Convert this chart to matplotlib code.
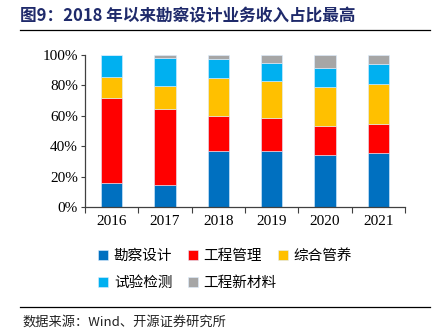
import numpy as np
import matplotlib.pyplot as plt
from matplotlib.lines import Line2D

plt.rcParams['font.family'] = ['Noto Sans CJK SC', 'DejaVu Sans']

years = ['2016', '2017', '2018', '2019', '2020', '2021']
names = ['勘察设计', '工程管理', '综合管养', '试验检测', '工程新材料']
colors = ['#0070C0', '#FF0000', '#FFC000', '#00B0F0', '#A6A6A6']

# shares in %
kancha = [15.6, 14.5, 37.0, 36.8, 34.2, 35.3]
gongcheng = [56.3, 50.2, 22.9, 21.5, 19.1, 19.1]
zonghe = [13.8, 14.9, 25.0, 24.8, 25.9, 26.7]
shiyan = [14.3, 18.4, 12.2, 11.8, 12.5, 13.2]
xincailiao = [0.0, 2.0, 2.9, 5.1, 8.3, 5.7]
series = [kancha, gongcheng, zonghe, shiyan, xincailiao]

fig = plt.figure(figsize=(4.33, 3.36), dpi=100)
ax = fig.add_axes([85 / 433, 1 - 207 / 336, 320 / 433, 152 / 336])

x = np.arange(len(years))
bottom = np.zeros(len(years))
bars = []
for vals, name, c in zip(series, names, colors):
    v = np.array(vals) / 100
    b = ax.bar(x, v, 0.4, bottom=bottom, color=c, label=name,
               edgecolor='#DDEEFF', linewidth=0.4)
    bars.append(b)
    bottom += v

ax.set_xlim(-0.5, 5.5)
ax.set_ylim(0, 1)
ax.set_yticks(np.arange(0, 1.01, 0.2))
ax.set_yticklabels([f'{int(round(t * 100))}%' for t in np.arange(0, 1.01, 0.2)],
                   family='Liberation Serif', fontsize=11)
ax.set_xticks(x)
ax.set_xticklabels(years, family='Liberation Serif', fontsize=11)
ax.tick_params(axis='x', length=0, pad=6)
ax.set_xticks(np.arange(-0.5, 5.6, 1), minor=True)
ax.tick_params(axis='x', which='minor', length=4, width=0.8, color='#404040')
ax.tick_params(axis='y', length=3, width=0.8, color='#404040', pad=2)
for s in ['top', 'right']:
    ax.spines[s].set_visible(False)
for s in ['left', 'bottom']:
    ax.spines[s].set_color('#404040')
    ax.spines[s].set_linewidth(0.9)

# two legend rows, same column spacing
leg_kw = dict(loc='upper left', frameon=False, handlelength=0.7, handleheight=0.7,
              handletextpad=0.4, columnspacing=1.05, fontsize=10.5, borderaxespad=0)
fig.legend(bars[:3], names[:3], ncol=3, bbox_to_anchor=(92 / 433, 1 - 243 / 336), **leg_kw)
fig.legend(bars[3:], names[3:], ncol=2, bbox_to_anchor=(92 / 433, 1 - 270 / 336), **leg_kw)

fig.text(20 / 433, 1 - 16 / 336, '图9：2018 年以来勘察设计业务收入占比最高',
         fontsize=12, fontweight='bold', color='#1F2A6B', va='center', ha='left')
fig.add_artist(Line2D([20 / 433, 430 / 433], [1 - 30 / 336] * 2, color='black', lw=0.9))
fig.add_artist(Line2D([20 / 433, 430 / 433], [1 - 307 / 336] * 2, color='black', lw=0.9))
fig.text(22 / 433, 1 - 322 / 336, '数据来源：Wind、开源证券研究所',
         fontsize=9.5, va='center', ha='left', color='#222222')

fig.savefig('out.png', dpi=100)
